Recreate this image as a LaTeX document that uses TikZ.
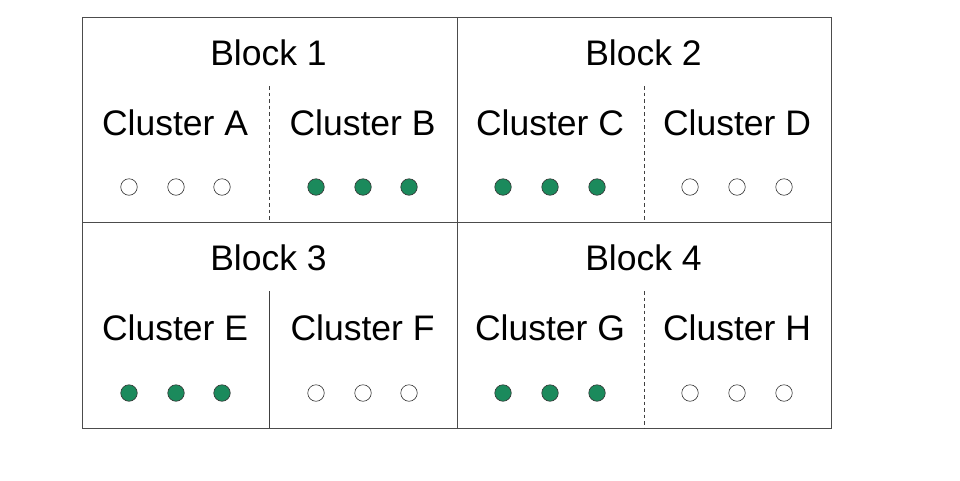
\documentclass[tikz,border=0pt]{standalone}
\usepackage{fontspec}
\setmainfont{Liberation Sans}
\begin{document}
\begin{tikzpicture}[x=1pt,y=-1pt,
  frame/.style={draw=black!70,line width=0.8pt},
  divline/.style={draw=black!75,line width=0.7pt},
  divdash/.style={divline,dash pattern=on 3.5pt off 3pt},
  lbl/.style={font=\fontsize{35.5}{40}\selectfont,inner sep=0pt,anchor=base},
  on/.style={circle,draw=black!80,line width=0.6pt,fill=onfill,minimum size=16.5pt,inner sep=0pt},
  off/.style={circle,draw=black!80,line width=0.6pt,fill=white,minimum size=16.5pt,inner sep=0pt}]
\definecolor{onfill}{HTML}{1B8A5C}
\useasboundingbox (0,0) rectangle (960,480);
% frame
\draw[frame] (82,17) rectangle (831,428);
\draw[frame] (457,17) -- (457,428);
\draw[frame] (82,222) -- (831,222);
% dividers
\coordinate (d1t) at (269,86); \coordinate (d1b) at (269,222);
\coordinate (d2t) at (644,86); \coordinate (d2b) at (644,222);
\coordinate (d3t) at (269,291); \coordinate (d3b) at (269,428);
\coordinate (d4t) at (644,291); \coordinate (d4b) at (644,428);
\draw[divdash] (d1t) -- (d1b);
\draw[divdash] (d2t) -- (d2b);
\draw[divline] (d3t) -- (d3b);
\draw[divdash] (d4t) -- (d4b);
% labels
\node[lbl] (b1) at (268.5,65) {Block 1};
\node[lbl] (b2) at (643.5,65) {Block 2};
\node[lbl] (b3) at (268.5,270) {Block 3};
\node[lbl] (b4) at (643.5,270) {Block 4};
\node[lbl] (cA) at (175,135) {Cluster A};
\node[lbl] (cB) at (362.5,135) {Cluster B};
\node[lbl] (cC) at (550,135) {Cluster C};
\node[lbl] (cD) at (737,135) {Cluster D};
\node[lbl] (cE) at (175,340) {Cluster E};
\node[lbl] (cF) at (362.5,340) {Cluster F};
\node[lbl] (cG) at (550,340) {Cluster G};
\node[lbl] (cH) at (737,340) {Cluster H};
% circles
\foreach \cx/\st/\nm in {129/off/a1,176/off/a2,222/off/a3,316/on/b1,363/on/b2,409/on/b3,503/on/c1,550/on/c2,597/on/c3,690/off/d1,737/off/d2,784/off/d3}
  \node[\st] (p\nm) at (\cx,187) {};
\foreach \cx/\st/\nm in {129/on/e1,176/on/e2,222/on/e3,316/off/f1,363/off/f2,409/off/f3,503/on/g1,550/on/g2,597/on/g3,690/off/h1,737/off/h2,784/off/h3}
  \node[\st] (p\nm) at (\cx,393) {};
\end{tikzpicture}
\end{document}
